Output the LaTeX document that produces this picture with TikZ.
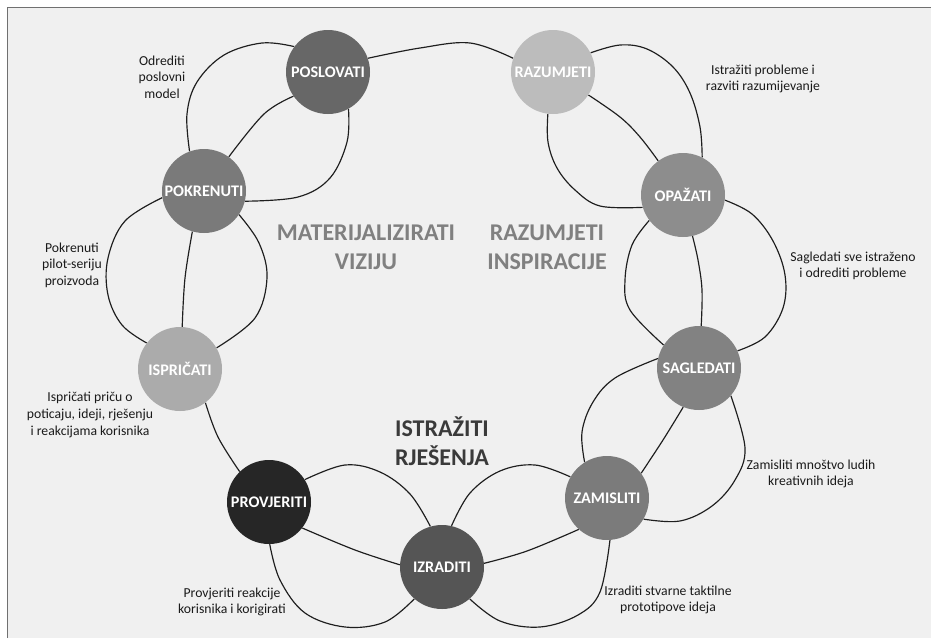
\documentclass[tikz,border=0pt]{standalone}
\usepackage{fontspec}
\setmainfont{Carlito}
\usetikzlibrary{calc}
\pgfdeclarelayer{bg}
\pgfdeclarelayer{wires}
\pgfsetlayers{bg,wires,main}
\definecolor{bgray}{HTML}{F0F0F0}
\definecolor{framec}{HTML}{707070}
\definecolor{wirec}{HTML}{1E1E1E}
\definecolor{cPOS}{HTML}{676767}
\definecolor{cRAZ}{HTML}{BCBCBC}
\definecolor{cOPA}{HTML}{8D8D8D}
\definecolor{cSAG}{HTML}{828282}
\definecolor{cZAM}{HTML}{7B7B7B}
\definecolor{cIZR}{HTML}{555555}
\definecolor{cPRO}{HTML}{262626}
\definecolor{cISP}{HTML}{ABABAB}
\definecolor{cPOK}{HTML}{7A7A7A}
\definecolor{tgray}{HTML}{808080}
\definecolor{tdark}{HTML}{3A3A3A}
\definecolor{notec}{HTML}{1A1A1A}
\tikzset{
  stage/.style={circle, minimum size=25.2mm, inner sep=0pt, text=white,
    font=\fontsize{13.8}{14}\selectfont\bfseries},
  note/.style={align=center, inner sep=0pt, text=notec,
    font=\fontsize{11.7}{14.2}\selectfont},
  headline/.style={align=center, inner sep=0pt,
    font=\fontsize{20.5}{24.7}\selectfont\bfseries},
  wire/.style={draw=wirec, line width=1pt},
  sm/.style={smooth, tension=0.6}
}
\begin{document}
\begin{tikzpicture}[x=0.3mm,y=0.3mm]
\useasboundingbox (0,0) rectangle (931,-638);
% nodes
\node[stage, fill=cPOS] (POS) at (328,-72) {POSLOVATI};
\node[stage, fill=cRAZ] (RAZ) at (553,-72) {RAZUMJETI};
\node[stage, fill=cOPA] (OPA) at (683,-195) {OPAŽATI};
\node[stage, fill=cSAG] (SAG) at (699,-368) {SAGLEDATI};
\node[stage, fill=cZAM] (ZAM) at (607,-498) {ZAMISLITI};
\node[stage, fill=cIZR] (IZR) at (442,-567) {IZRADITI};
\node[stage, fill=cPRO] (PRO) at (269,-502) {PROVJERITI};
\node[stage, fill=cISP] (ISP) at (180,-369) {ISPRIČATI};
\node[stage, fill=cPOK] (POK) at (204,-191) {POKRENUTI};
% texts
\node[note] (tOdr) at (162,-77) {Odrediti\\poslovni\\model};
\node[note] (tIst) at (763,-79) {Istražiti probleme i\\razviti razumijevanje};
\node[note] (tSag) at (853,-266) {Sagledati sve istraženo\\i odrediti probleme};
\node[note] (tZam) at (811,-474) {Zamisliti mnoštvo ludih\\kreativnih ideja};
\node[note] (tIzr) at (668,-600) {Izraditi stvarne taktilne\\prototipove ideja};
\node[note] (tPro) at (232,-602) {Provjeriti reakcije\\korisnika i korigirati};
\node[note] (tIsp) at (90,-415) {Ispričati priču o\\poticaju, ideji, rješenju\\i reakcijama korisnika};
\node[note] (tPok) at (72,-265) {Pokrenuti\\pilot-seriju\\proizvoda};
\node[headline, text=tgray] (hMat) at (366,-247) {MATERIJALIZIRATI\\VIZIJU};
\node[headline, text=tgray] (hRaz) at (547,-247) {RAZUMJETI\\INSPIRACIJE};
\node[headline, text=tdark] (hIst) at (442,-441) {ISTRAŽITI\\RJEŠENJA};
% background
\begin{pgfonlayer}{bg}
\fill[white] (0,0) rectangle (931,-638);
\fill[bgray] (8,-8) rectangle (931,-638);
\draw[framec, line width=1.7pt] (7.5,-638) -- (7.5,-7.5) -- (931,-7.5);
\end{pgfonlayer}
% connectors
\begin{pgfonlayer}{wires}
% POSLOVATI - RAZUMJETI
\draw[wire] plot[sm] coordinates {(POS.19) (420,-48) (470,-43) (RAZ.161)};
% RAZUMJETI - OPAZATI
\draw[wire] plot[sm] coordinates {(RAZ.27) (620,-45) (647,-49) (673,-67) (690,-93) (700,-127) (OPA.63)};
\draw[wire] plot[sm] coordinates {(RAZ.-33) (620,-117) (640,-137) (OPA.126)};
\draw[wire] plot[sm] coordinates {(RAZ.-97) (548,-142) (557,-168) (575,-190) (600,-206) (OPA.-163)};
% OPAZATI - SAGLEDATI
\draw[wire] plot[sm] coordinates {(OPA.-143) (632,-245) (625,-280) (630,-310) (SAG.147)};
\draw[wire] plot[sm] coordinates {(OPA.-77) (698,-260) (702,-290) (SAG.87)};
\draw[wire] plot[sm] coordinates {(OPA.-7) (752,-214) (773,-241) (785,-275) (783,-308) (765,-337) (SAG.24)};
% SAGLEDATI - ZAMISLITI
\draw[wire] plot[sm] coordinates {(ZAM.122) (582,-432) (593,-402) (615,-378) (SAG.167)};
\draw[wire] plot[sm] coordinates {(ZAM.36) (663,-440) (SAG.-112)};
\draw[wire] plot[sm] coordinates {(ZAM.-30) (680,-521) (712,-506) (735,-480) (745,-448) (SAG.-41)};
% ZAMISLITI - IZRADITI
\draw[wire] plot[sm] coordinates {(IZR.77) (470,-493) (500,-471) (535,-465) (ZAM.150)};
\draw[wire] plot[sm] coordinates {(IZR.5) (527,-551) (ZAM.-132)};
\draw[wire] plot[sm] coordinates {(IZR.-49) (500,-621) (540,-627) (578,-615) (600,-592) (ZAM.-86)};
% IZRADITI - PROVJERITI
\draw[wire] plot[sm] coordinates {(PRO.32) (345,-465) (380,-472) (410,-494) (IZR.106)};
\draw[wire] plot[sm] coordinates {(PRO.-38) (355,-550) (IZR.177)};
\draw[wire] plot[sm] coordinates {(PRO.-89) (280,-580) (305,-613) (345,-627) (385,-622) (IZR.-131)};
% PROVJERITI - ISPRICATI
\draw[wire] plot[sm] coordinates {(ISP.-53) (218,-437) (PRO.134)};
% ISPRICATI - POKRENUTI
\draw[wire] plot[sm] coordinates {(POK.189) (125,-221) (108,-258) (108,-295) (122,-325) (ISP.142)};
\draw[wire] plot[sm] coordinates {(POK.-106) (185,-278) (ISP.87)};
\draw[wire] plot[sm] coordinates {(POK.-34) (259,-243) (267,-278) (255,-318) (ISP.30)};
% POKRENUTI - POSLOVATI
\draw[wire] plot[sm] coordinates {(POS.143) (262,-43) (224,-55) (197,-82) (187,-114) (POK.110)};
\draw[wire] plot[sm] coordinates {(POS.-145) (264,-114) (POK.54)};
\draw[wire] plot[sm] coordinates {(POS.-61) (347,-142) (330,-178) (298,-197) (POK.-14)};
\end{pgfonlayer}
\end{tikzpicture}
\end{document}
